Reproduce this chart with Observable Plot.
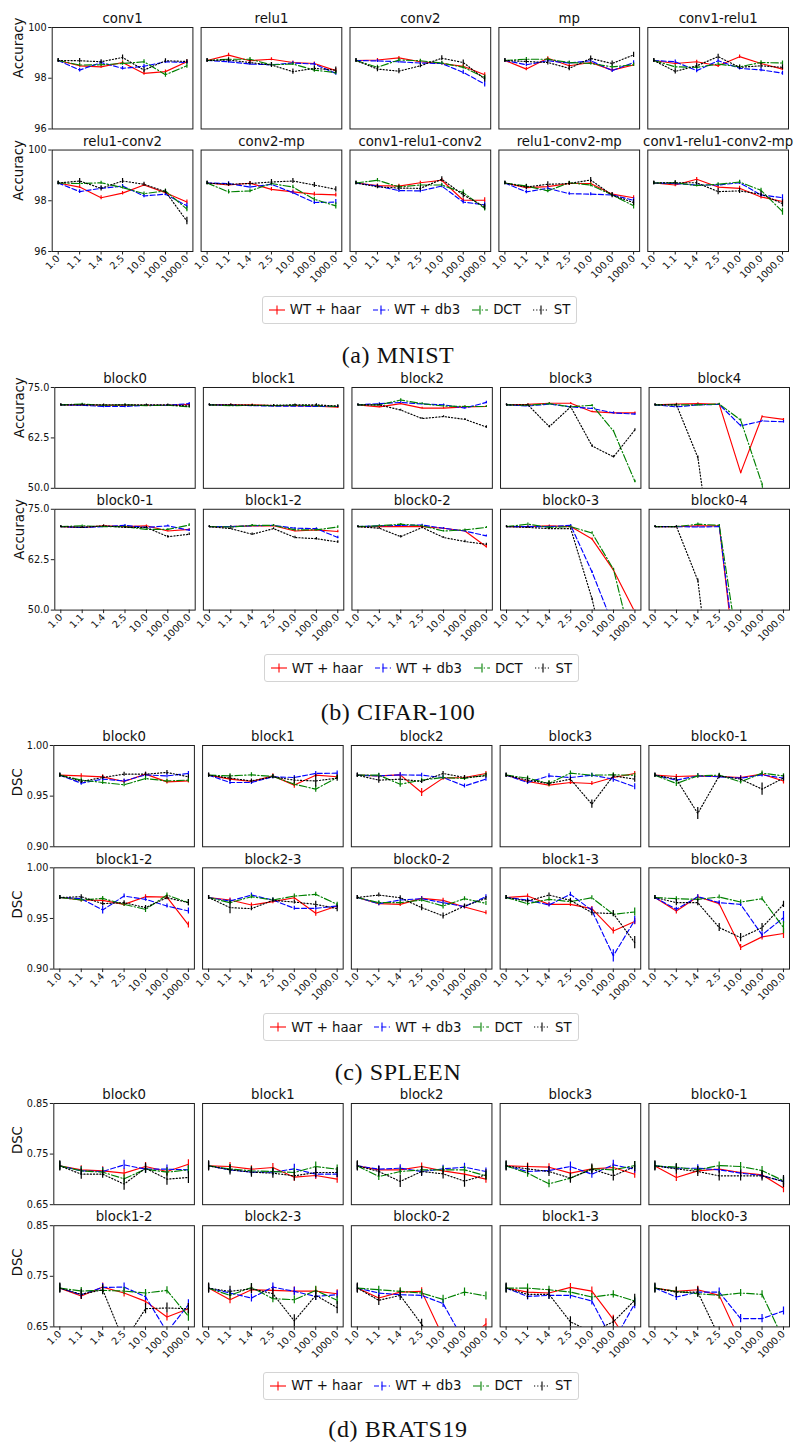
<!DOCTYPE html>
<html>
<head>
<meta charset="utf-8">
<script src="https://cdn.jsdelivr.net/npm/d3@7"></script>
<script src="https://cdn.jsdelivr.net/npm/@observablehq/plot@0.6"></script>
<style>
  html, body { margin: 0; padding: 0; background: #fff; }
  body { width: 796px; height: 1442px; position: relative; overflow: hidden; font-family: "DejaVu Sans", sans-serif; color: #111; }
  .sec { position: absolute; left: 0; }
  .legend { position: absolute; height: 28px; box-sizing: border-box; border: 1px solid #d4d4d4; border-radius: 3px; display: flex; align-items: center; padding: 0 6px 0 6px; font-size: 13.3px; color: #111; background: #fff; white-space: nowrap; }
  .legend .item { display: flex; align-items: center; margin-right: 12px; }
  .legend .item:last-child { margin-right: 0; }
  .legend svg { margin-right: 5px; }
  .caption { position: absolute; left: 0; width: 796px; text-align: center; font-family: "Liberation Serif", serif; font-size: 24px; line-height: 30px; letter-spacing: 0.6px; color: #111; }
</style>
</head>
<body>
<script>
// ---------- shared data ----------
const xLabels = ["1.0", "1.1", "1.4", "2.5", "10.0", "100.0", "1000.0"];
const seriesNames = ["WT + haar", "WT + db3", "DCT", "ST"];

// ---------- (a) MNIST ----------
const mnistPanels = ["conv1", "relu1", "conv2", "mp", "conv1-relu1", "relu1-conv2", "conv2-mp", "conv1-relu1-conv2", "relu1-conv2-mp", "conv1-relu1-conv2-mp"];
const mnistYTicks = [96, 98, 100];
const mnistHaar = [
  [98.7, 98.49, 98.45, 98.62, 98.19, 98.26, 98.65],
  [98.7, 98.91, 98.69, 98.75, 98.62, 98.58, 98.3],
  [98.7, 98.72, 98.8, 98.65, 98.58, 98.47, 98.14],
  [98.7, 98.36, 98.79, 98.49, 98.62, 98.32, 98.52],
  [98.7, 98.58, 98.65, 98.49, 98.85, 98.58, 98.36],
  [98.7, 98.54, 98.12, 98.3, 98.62, 98.32, 97.95],
  [98.7, 98.62, 98.69, 98.45, 98.35, 98.26, 98.23],
  [98.7, 98.6, 98.58, 98.71, 98.81, 98.02, 98.02],
  [98.7, 98.52, 98.56, 98.68, 98.68, 98.26, 98.12],
  [98.7, 98.62, 98.85, 98.54, 98.49, 98.15, 97.97]
];
const mnistDb3 = [
  [98.7, 98.32, 98.62, 98.39, 98.47, 98.65, 98.62],
  [98.7, 98.65, 98.56, 98.53, 98.6, 98.56, 98.19],
  [98.7, 98.68, 98.65, 98.6, 98.58, 98.23, 97.77],
  [98.7, 98.53, 98.69, 98.6, 98.69, 98.3, 98.62],
  [98.7, 98.65, 98.3, 98.69, 98.39, 98.33, 98.2],
  [98.7, 98.36, 98.49, 98.58, 98.19, 98.26, 97.8],
  [98.7, 98.68, 98.54, 98.65, 98.32, 97.93, 97.95],
  [98.7, 98.58, 98.4, 98.39, 98.58, 97.95, 97.84],
  [98.7, 98.35, 98.49, 98.28, 98.26, 98.23, 98.02],
  [98.7, 98.68, 98.62, 98.62, 98.71, 98.23, 98.12]
];
const mnistDct = [
  [98.7, 98.52, 98.53, 98.58, 98.65, 98.14, 98.49],
  [98.7, 98.75, 98.75, 98.53, 98.56, 98.32, 98.22],
  [98.7, 98.43, 98.72, 98.69, 98.6, 98.43, 98.03],
  [98.7, 98.75, 98.75, 98.62, 98.58, 98.45, 98.53],
  [98.7, 98.45, 98.43, 98.56, 98.45, 98.62, 98.6],
  [98.7, 98.68, 98.71, 98.52, 98.28, 98.39, 97.67],
  [98.7, 98.35, 98.39, 98.68, 98.54, 98.06, 97.8],
  [98.7, 98.81, 98.55, 98.62, 98.62, 98.32, 97.7],
  [98.7, 98.58, 98.39, 98.71, 98.62, 98.23, 97.8],
  [98.7, 98.71, 98.6, 98.65, 98.74, 98.41, 97.57]
];
const mnistSt = [
  [98.7, 98.69, 98.65, 98.82, 98.32, 98.69, 98.66],
  [98.7, 98.72, 98.62, 98.52, 98.26, 98.39, 98.32],
  [98.7, 98.36, 98.28, 98.49, 98.79, 98.62, 97.97],
  [98.7, 98.66, 98.62, 98.39, 98.78, 98.58, 98.92],
  [98.7, 98.27, 98.49, 98.85, 98.43, 98.49, 98.43],
  [98.7, 98.78, 98.49, 98.78, 98.65, 98.36, 97.2],
  [98.7, 98.65, 98.68, 98.74, 98.78, 98.62, 98.45],
  [98.7, 98.55, 98.5, 98.49, 98.85, 98.23, 97.76],
  [98.7, 98.54, 98.65, 98.68, 98.82, 98.22, 97.93],
  [98.7, 98.71, 98.71, 98.36, 98.39, 98.26, 97.89]
];
const mnistHaarErr = [
  [.06, .06, .06, .07, .07, .06, .07],
  [.06, .07, .06, .06, .06, .06, .08],
  [.06, .06, .06, .06, .06, .07, .08],
  [.06, .07, .06, .06, .06, .07, .06],
  [.06, .06, .06, .07, .07, .06, .07],
  [.06, .06, .08, .07, .06, .06, .08],
  [.06, .06, .06, .07, .07, .08, .08],
  [.06, .06, .07, .06, .07, .08, .1],
  [.06, .06, .06, .07, .06, .07, .08],
  [.06, .07, .07, .07, .08, .08, .1]
];
const mnistDb3Err = [
  [.06, .07, .06, .07, .07, .06, .07],
  [.06, .06, .06, .07, .06, .06, .07],
  [.06, .06, .06, .06, .06, .08, .12],
  [.06, .07, .06, .06, .06, .07, .07],
  [.06, .07, .08, .06, .07, .07, .08],
  [.06, .07, .06, .06, .07, .06, .1],
  [.06, .07, .06, .07, .07, .08, .1],
  [.06, .06, .07, .07, .07, .08, .1],
  [.06, .07, .06, .06, .06, .07, .1],
  [.06, .06, .06, .06, .07, .07, .12]
];
const mnistDctErr = [
  [.06, .06, .06, .07, .08, .1, .1],
  [.06, .06, .07, .06, .06, .08, .08],
  [.06, .08, .07, .06, .06, .07, .1],
  [.06, .07, .06, .06, .06, .07, .07],
  [.06, .08, .07, .06, .07, .07, .08],
  [.06, .07, .06, .06, .07, .07, .1],
  [.06, .08, .07, .07, .07, .08, .12],
  [.06, .07, .07, .06, .07, .1, .1],
  [.06, .07, .07, .06, .07, .07, .12],
  [.06, .07, .06, .06, .07, .08, .14]
];
const mnistStErr = [
  [.08, .09, .08, .1, .1, .08, .08],
  [.08, .08, .09, .1, .1, .1, .12],
  [.08, .1, .1, .08, .1, .1, .12],
  [.08, .08, .1, .1, .1, .1, .1],
  [.08, .1, .1, .1, .08, .1, .1],
  [.08, .1, .1, .1, .08, .08, .15],
  [.08, .08, .08, .1, .1, .1, .1],
  [.08, .08, .09, .1, .1, .12, .12],
  [.08, .1, .1, .08, .1, .1, .12],
  [.08, .08, .08, .12, .1, .1, .14]
];

// ---------- (b) CIFAR-100 ----------
const cifarPanels = ["block0", "block1", "block2", "block3", "block4", "block0-1", "block1-2", "block0-2", "block0-3", "block0-4"];
const cifarYTicks = [50, 62.5, 75];
const cifarHaar = [
  [70.7, 70.7, 70.6, 70.6, 70.6, 70.6, 70.8],
  [70.7, 70.7, 70.7, 70.5, 70.5, 70.4, 70.1],
  [70.7, 70.2, 71.0, 69.9, 69.9, 70.2, 70.3],
  [70.7, 70.8, 71.1, 71.1, 69.0, 68.7, 68.7],
  [70.7, 70.9, 71.0, 70.8, 53.9, 67.8, 67.1],
  [70.7, 70.5, 70.9, 70.7, 70.9, 69.6, 70.0],
  [70.7, 70.7, 70.9, 70.9, 69.6, 69.9, 69.5],
  [70.7, 70.7, 70.7, 70.7, 70.3, 69.6, 65.7],
  [70.7, 70.7, 70.9, 70.7, 67.6, 59.9, 49.5],
  [70.7, 70.7, 70.9, 70.9, 25, 1, 1]
];
const cifarDb3 = [
  [70.7, 70.6, 70.3, 70.3, 70.6, 70.6, 71.0],
  [70.7, 70.6, 70.5, 70.4, 70.4, 70.3, 70.3],
  [70.7, 71.0, 71.3, 70.9, 70.7, 69.9, 71.3],
  [70.7, 70.4, 70.9, 70.2, 69.8, 68.7, 68.4],
  [70.7, 70.2, 70.7, 70.8, 65.5, 66.7, 66.5],
  [70.7, 70.5, 70.7, 71.0, 70.5, 70.9, 69.8],
  [70.7, 70.7, 70.9, 71.0, 70.3, 70.2, 68.0],
  [70.7, 70.9, 71.0, 71.1, 70.3, 69.6, 68.4],
  [70.7, 70.7, 70.7, 71.0, 59.4, 46, 1],
  [70.7, 70.7, 70.6, 70.7, 28, 1, 1]
];
const cifarDct = [
  [70.7, 70.9, 70.6, 70.7, 70.5, 70.6, 70.2],
  [70.7, 70.5, 70.6, 70.5, 70.6, 70.5, 70.3],
  [70.7, 70.7, 71.9, 71.0, 70.4, 70.3, 70.3],
  [70.7, 70.6, 71.0, 70.2, 70.6, 64.2, 51.7],
  [70.7, 70.7, 70.7, 70.9, 66.9, 51.0, 1],
  [70.7, 70.9, 70.7, 70.7, 70.0, 70.0, 71.1],
  [70.7, 70.6, 71.0, 71.0, 69.9, 69.9, 70.6],
  [70.7, 70.9, 71.3, 70.9, 69.6, 69.9, 70.5],
  [70.7, 71.3, 70.5, 70.7, 69.1, 60.1, 38.5],
  [70.7, 70.7, 71.3, 71.0, 36, 1, 1]
];
const cifarSt = [
  [70.7, 70.7, 70.7, 70.7, 70.7, 70.7, 70.4],
  [70.7, 70.7, 70.6, 70.6, 70.7, 70.7, 70.4],
  [70.7, 70.7, 69.4, 67.3, 67.8, 67.1, 65.2],
  [70.7, 70.7, 65.3, 70.2, 60.5, 57.8, 64.5],
  [70.7, 70.7, 57.6, 20, 1, 1, 1],
  [70.7, 70.5, 70.9, 70.5, 70.5, 68.2, 68.8],
  [70.7, 70.2, 68.8, 70.2, 68.0, 67.7, 66.9],
  [70.7, 70.3, 68.2, 70.5, 68.0, 67.0, 66.3],
  [70.7, 70.5, 70.2, 70.2, 52.7, 30, 20],
  [70.7, 70.7, 57.3, 14, 1, 1, 1]
];
const cifarHaarErr = [
  [.2, .2, .2, .2, .2, .2, .2],
  [.2, .2, .2, .2, .2, .2, .3],
  [.2, .2, .2, .2, .2, .2, .2],
  [.2, .2, .2, .2, .2, .2, .2],
  [.2, .2, .2, .2, .3, .2, .2],
  [.2, .2, .2, .2, .2, .2, .2],
  [.2, .2, .2, .2, .2, .2, .3],
  [.2, .2, .2, .2, .2, .2, .3],
  [.2, .2, .2, .2, .3, .3, .3],
  [.2, .2, .2, .2, .3, .3, .3]
];
const cifarDb3Err = [
  [.2, .2, .3, .3, .2, .2, .3],
  [.2, .2, .2, .2, .2, .2, .2],
  [.2, .2, .2, .2, .2, .2, .3],
  [.2, .2, .2, .2, .2, .2, .2],
  [.2, .2, .2, .2, .3, .2, .3],
  [.2, .2, .2, .2, .2, .2, .3],
  [.2, .2, .2, .2, .2, .2, .3],
  [.2, .2, .2, .2, .2, .2, .2],
  [.2, .2, .2, .2, .3, .3, .3],
  [.2, .2, .2, .3, .3, .3, .3]
];
const cifarDctErr = [
  [.2, .2, .2, .2, .2, .2, .3],
  [.2, .2, .2, .2, .2, .2, .3],
  [.2, .2, .3, .2, .2, .2, .2],
  [.2, .2, .2, .2, .2, .2, .3],
  [.2, .2, .2, .2, .3, .3, .3],
  [.2, .2, .2, .2, .2, .2, .3],
  [.2, .2, .2, .2, .2, .2, .3],
  [.2, .2, .2, .2, .2, .2, .2],
  [.2, .3, .2, .2, .3, .3, .3],
  [.2, .2, .3, .2, .3, .3, .3]
];
const cifarStErr = [
  [.2, .2, .2, .2, .2, .2, .3],
  [.2, .2, .2, .2, .2, .3, .3],
  [.2, .2, .2, .2, .2, .2, .3],
  [.2, .2, .3, .2, .3, .3, .3],
  [.2, .2, .4, .3, .3, .3, .3],
  [.2, .2, .2, .2, .2, .3, .3],
  [.2, .2, .3, .2, .3, .3, .3],
  [.2, .2, .3, .2, .2, .3, .3],
  [.2, .2, .2, .2, .3, .3, .3],
  [.2, .2, .4, .3, .3, .3, .3]
];

// ---------- (c) SPLEEN ----------
const spleenPanels = ["block0", "block1", "block2", "block3", "block0-1", "block1-2", "block2-3", "block0-2", "block1-3", "block0-3"];
const spleenYTicks = [0.90, 0.95, 1.00];
const spleenHaar = [
  [0.9707, 0.9700, 0.9690, 0.9645, 0.9717, 0.9641, 0.9650],
  [0.9707, 0.9668, 0.9645, 0.9700, 0.9609, 0.9707, 0.9691],
  [0.9707, 0.9700, 0.9710, 0.9536, 0.9678, 0.9684, 0.9724],
  [0.9707, 0.9645, 0.9609, 0.9635, 0.9625, 0.9684, 0.9724],
  [0.9707, 0.9694, 0.9700, 0.9694, 0.9684, 0.9717, 0.9650],
  [0.9707, 0.9682, 0.9679, 0.9639, 0.9715, 0.9711, 0.9436],
  [0.9707, 0.9682, 0.9633, 0.9666, 0.9705, 0.9551, 0.9623],
  [0.9707, 0.9646, 0.9639, 0.9698, 0.9679, 0.9613, 0.9557],
  [0.9707, 0.9721, 0.9639, 0.9639, 0.9597, 0.9377, 0.9469],
  [0.9707, 0.9574, 0.9715, 0.9646, 0.9213, 0.9318, 0.9351]
];
const spleenDb3 = [
  [0.9707, 0.9628, 0.9668, 0.9650, 0.9710, 0.9700, 0.9724],
  [0.9707, 0.9635, 0.9635, 0.9691, 0.9684, 0.9724, 0.9727],
  [0.9707, 0.9700, 0.9710, 0.9707, 0.9684, 0.9600, 0.9668],
  [0.9707, 0.9635, 0.9700, 0.9684, 0.9707, 0.9668, 0.9592],
  [0.9707, 0.9658, 0.9700, 0.9691, 0.9678, 0.9710, 0.9678],
  [0.9707, 0.9695, 0.9584, 0.9721, 0.9689, 0.9623, 0.9574],
  [0.9707, 0.9672, 0.9731, 0.9682, 0.9600, 0.9600, 0.9623],
  [0.9707, 0.9646, 0.9682, 0.9695, 0.9656, 0.9616, 0.9715],
  [0.9707, 0.9682, 0.9633, 0.9738, 0.9580, 0.9131, 0.9482],
  [0.9707, 0.9590, 0.9715, 0.9656, 0.9639, 0.9338, 0.9508]
];
const spleenDct = [
  [0.9707, 0.9658, 0.9635, 0.9612, 0.9674, 0.9650, 0.9658],
  [0.9707, 0.9700, 0.9710, 0.9694, 0.9618, 0.9569, 0.9684],
  [0.9707, 0.9707, 0.9618, 0.9658, 0.9684, 0.9674, 0.9710],
  [0.9707, 0.9678, 0.9625, 0.9727, 0.9707, 0.9710, 0.9707],
  [0.9707, 0.9625, 0.9700, 0.9707, 0.9641, 0.9727, 0.9700],
  [0.9707, 0.9682, 0.9698, 0.9639, 0.9590, 0.9731, 0.9656],
  [0.9707, 0.9656, 0.9715, 0.9682, 0.9721, 0.9738, 0.9639],
  [0.9707, 0.9656, 0.9656, 0.9682, 0.9623, 0.9695, 0.9649],
  [0.9707, 0.9646, 0.9689, 0.9666, 0.9705, 0.9541, 0.9564],
  [0.9707, 0.9695, 0.9689, 0.9711, 0.9662, 0.9695, 0.9410]
];
const spleenSt = [
  [0.9707, 0.9645, 0.9684, 0.9717, 0.9717, 0.9734, 0.9691],
  [0.9707, 0.9678, 0.9650, 0.9691, 0.9658, 0.9650, 0.9678],
  [0.9707, 0.9658, 0.9668, 0.9645, 0.9724, 0.9684, 0.9700],
  [0.9707, 0.9658, 0.9625, 0.9668, 0.9421, 0.9700, 0.9668],
  [0.9707, 0.9668, 0.9329, 0.9700, 0.9668, 0.9569, 0.9678],
  [0.9707, 0.9715, 0.9646, 0.9656, 0.9607, 0.9705, 0.9656],
  [0.9707, 0.9607, 0.9597, 0.9679, 0.9662, 0.9639, 0.9597],
  [0.9707, 0.9731, 0.9705, 0.9607, 0.9525, 0.9623, 0.9698],
  [0.9707, 0.9672, 0.9731, 0.9679, 0.9557, 0.9548, 0.9262],
  [0.9707, 0.9656, 0.9656, 0.9410, 0.9311, 0.9410, 0.9639]
];
const spleenHaarErr = [
  [.002, .002, .002, .002, .002, .002, .002],
  [.002, .002, .002, .002, .003, .002, .002],
  [.002, .002, .002, .004, .002, .002, .002],
  [.002, .002, .002, .002, .002, .002, .002],
  [.002, .002, .002, .002, .002, .002, .003],
  [.002, .002, .002, .002, .002, .002, .003],
  [.002, .002, .002, .002, .002, .003, .002],
  [.002, .002, .002, .002, .002, .002, .002],
  [.002, .002, .002, .002, .002, .003, .003],
  [.002, .003, .002, .002, .003, .003, .005]
];
const spleenDb3Err = [
  [.002, .002, .002, .002, .002, .002, .002],
  [.002, .002, .002, .002, .002, .002, .002],
  [.002, .002, .002, .002, .002, .002, .002],
  [.002, .002, .002, .002, .002, .003, .003],
  [.002, .002, .002, .002, .002, .002, .002],
  [.002, .002, .004, .002, .002, .002, .003],
  [.002, .002, .002, .002, .002, .002, .002],
  [.002, .002, .002, .002, .002, .002, .002],
  [.002, .002, .002, .002, .003, .006, .004],
  [.002, .002, .002, .002, .002, .003, .006]
];
const spleenDctErr = [
  [.002, .002, .002, .002, .002, .002, .002],
  [.002, .002, .002, .002, .002, .003, .002],
  [.002, .002, .003, .002, .002, .002, .002],
  [.002, .002, .003, .002, .002, .002, .002],
  [.002, .003, .002, .002, .002, .002, .002],
  [.002, .002, .002, .002, .003, .002, .003],
  [.002, .002, .002, .002, .002, .002, .002],
  [.002, .002, .002, .002, .003, .002, .002],
  [.002, .002, .002, .002, .002, .002, .004],
  [.002, .002, .002, .002, .002, .002, .006]
];
const spleenStErr = [
  [.002, .002, .002, .002, .002, .002, .002],
  [.002, .003, .002, .002, .003, .006, .003],
  [.002, .003, .002, .002, .002, .002, .002],
  [.002, .003, .002, .002, .004, .002, .003],
  [.002, .002, .006, .002, .002, .006, .003],
  [.002, .002, .002, .002, .002, .002, .003],
  [.002, .006, .002, .002, .002, .003, .003],
  [.002, .002, .002, .003, .003, .002, .002],
  [.002, .002, .002, .002, .003, .003, .006],
  [.002, .003, .003, .004, .004, .004, .003]
];

// ---------- (d) BRATS19 ----------
const bratsPanels = ["block0", "block1", "block2", "block3", "block0-1", "block1-2", "block2-3", "block0-2", "block1-3", "block0-3"];
const bratsYTicks = [0.65, 0.75, 0.85];
const bratsHaar = [
  [0.7267, 0.7189, 0.7169, 0.7123, 0.7254, 0.7156, 0.7300],
  [0.7267, 0.7254, 0.7202, 0.7234, 0.7044, 0.7077, 0.7005],
  [0.7267, 0.7189, 0.7189, 0.7254, 0.7169, 0.7103, 0.7005],
  [0.7267, 0.7254, 0.7241, 0.7123, 0.7208, 0.7234, 0.7103],
  [0.7267, 0.7038, 0.7169, 0.7202, 0.7136, 0.7090, 0.6828],
  [0.7267, 0.7110, 0.7287, 0.7169, 0.7005, 0.6697, 0.6860],
  [0.7267, 0.7038, 0.7234, 0.7221, 0.7208, 0.7208, 0.7156],
  [0.7267, 0.7070, 0.7188, 0.7202, 0.6300, 0.6200, 0.6560],
  [0.7267, 0.7188, 0.7169, 0.7280, 0.7208, 0.6650, 0.6000],
  [0.7267, 0.7202, 0.7234, 0.7123, 0.6200, 0.6000, 0.6000]
];
const bratsDb3 = [
  [0.7267, 0.7169, 0.7156, 0.7287, 0.7202, 0.7202, 0.7189],
  [0.7267, 0.7189, 0.7143, 0.7143, 0.7208, 0.7103, 0.7103],
  [0.7267, 0.7202, 0.7221, 0.7156, 0.7208, 0.7241, 0.7156],
  [0.7267, 0.7156, 0.7175, 0.7254, 0.7103, 0.7287, 0.7202],
  [0.7267, 0.7221, 0.7221, 0.7189, 0.7123, 0.7077, 0.6959],
  [0.7267, 0.7136, 0.7280, 0.7287, 0.7097, 0.6400, 0.6938],
  [0.7267, 0.7169, 0.7070, 0.7287, 0.7202, 0.7103, 0.7136],
  [0.7267, 0.7169, 0.7136, 0.7123, 0.6961, 0.6200, 0.6000],
  [0.7267, 0.7103, 0.7123, 0.7123, 0.7012, 0.6200, 0.6959],
  [0.7267, 0.7090, 0.7188, 0.7188, 0.6664, 0.6664, 0.6815]
];
const bratsDct = [
  [0.7267, 0.7169, 0.7143, 0.7011, 0.7202, 0.7143, 0.7189],
  [0.7267, 0.7208, 0.7169, 0.7156, 0.7136, 0.7254, 0.7202],
  [0.7267, 0.7057, 0.7156, 0.7189, 0.7189, 0.7189, 0.7070],
  [0.7267, 0.7123, 0.6913, 0.7025, 0.7208, 0.7189, 0.7274],
  [0.7267, 0.7241, 0.7189, 0.7274, 0.7254, 0.7175, 0.6972],
  [0.7267, 0.7208, 0.7221, 0.7208, 0.7169, 0.7221, 0.6710],
  [0.7267, 0.7123, 0.7280, 0.7057, 0.7038, 0.7221, 0.7025],
  [0.7267, 0.7234, 0.7202, 0.7169, 0.7044, 0.7188, 0.7110],
  [0.7267, 0.7267, 0.7234, 0.7188, 0.7090, 0.7143, 0.7012],
  [0.7267, 0.7202, 0.7156, 0.7123, 0.7169, 0.7143, 0.6250]
];
const bratsSt = [
  [0.7267, 0.7103, 0.7103, 0.6907, 0.7221, 0.7005, 0.7038],
  [0.7267, 0.7189, 0.7143, 0.7123, 0.7070, 0.7136, 0.7136],
  [0.7267, 0.7156, 0.6960, 0.7156, 0.7110, 0.6966, 0.7090],
  [0.7267, 0.7208, 0.7156, 0.7025, 0.7202, 0.7070, 0.7254],
  [0.7267, 0.7208, 0.7156, 0.7070, 0.7070, 0.7070, 0.6959],
  [0.7267, 0.7143, 0.7234, 0.6205, 0.6860, 0.6874, 0.6860],
  [0.7267, 0.7202, 0.7254, 0.7156, 0.6618, 0.7123, 0.6880],
  [0.7267, 0.7025, 0.7123, 0.6550, 0.6000, 0.6000, 0.6000],
  [0.7267, 0.7143, 0.7143, 0.6600, 0.6400, 0.6600, 0.7025],
  [0.7267, 0.7188, 0.7188, 0.6300, 0.6000, 0.6000, 0.6000]
];
const bratsHaarErr = [
  [.008, .008, .008, .008, .008, .008, .009],
  [.008, .008, .007, .008, .008, .008, .008],
  [.008, .007, .007, .007, .007, .008, .008],
  [.008, .007, .007, .008, .007, .008, .008],
  [.008, .008, .007, .007, .007, .008, .009],
  [.008, .007, .008, .008, .008, .008, .010],
  [.008, .008, .007, .008, .008, .008, .008],
  [.008, .007, .007, .007, .008, .008, .010],
  [.008, .007, .007, .008, .008, .008, .008],
  [.008, .007, .007, .007, .008, .008, .008]
];
const bratsDb3Err = [
  [.008, .008, .008, .009, .008, .008, .008],
  [.008, .007, .007, .007, .009, .008, .007],
  [.008, .007, .007, .008, .007, .008, .007],
  [.008, .007, .007, .009, .008, .009, .008],
  [.008, .007, .007, .007, .007, .007, .008],
  [.008, .007, .008, .008, .008, .008, .010],
  [.008, .007, .008, .008, .008, .008, .008],
  [.008, .007, .007, .007, .008, .008, .008],
  [.008, .007, .007, .007, .008, .008, .010],
  [.008, .007, .007, .008, .008, .008, .008]
];
const bratsDctErr = [
  [.008, .008, .008, .008, .008, .008, .008],
  [.008, .008, .008, .007, .008, .009, .008],
  [.008, .008, .007, .007, .007, .007, .008],
  [.008, .008, .008, .008, .007, .007, .008],
  [.008, .007, .007, .007, .008, .008, .008],
  [.008, .007, .007, .007, .007, .007, .010],
  [.008, .008, .008, .008, .008, .008, .008],
  [.008, .007, .007, .007, .008, .008, .008],
  [.008, .008, .007, .007, .007, .007, .008],
  [.008, .007, .007, .007, .007, .007, .010]
];
const bratsStErr = [
  [.010, .010, .008, .012, .010, .012, .012],
  [.010, .010, .010, .010, .010, .010, .010],
  [.010, .010, .012, .010, .010, .012, .010],
  [.010, .010, .010, .010, .010, .010, .010],
  [.010, .010, .010, .010, .010, .010, .012],
  [.010, .010, .010, .010, .010, .010, .010],
  [.010, .010, .010, .010, .012, .010, .012],
  [.010, .010, .010, .010, .010, .010, .010],
  [.010, .010, .010, .010, .010, .010, .012],
  [.010, .010, .010, .010, .010, .010, .010]
];

// ---------- styles & layout (not data) ----------
const seriesStyle = [
  {color: "#ff0000", dash: null},
  {color: "#0000ff", dash: "5,2.4"},
  {color: "#008000", dash: "7.5,2.2,1.3,2.2"},
  {color: "#000000", dash: "1.2,2"}
];

const sections = [
  {panels: mnistPanels, series: [mnistHaar, mnistDb3, mnistDct, mnistSt], errs: [mnistHaarErr, mnistDb3Err, mnistDctErr, mnistStErr],
   yDomain: [96, 100], yTicks: mnistYTicks, yFmt: d => String(d), ylabel: "Accuracy", caption: "(a) MNIST",
   plotTop: 26.7, plotBottom: 250.7, left: 51.7, right: 788, labelDx: -33, legendTop: 295.7, captionY: 355},
  {panels: cifarPanels, series: [cifarHaar, cifarDb3, cifarDct, cifarSt], errs: [cifarHaarErr, cifarDb3Err, cifarDctErr, cifarStErr],
   yDomain: [50, 75], yTicks: cifarYTicks, yFmt: d3.format(".1f"), ylabel: "Accuracy", caption: "(b) CIFAR-100",
   plotTop: 386.7, plotBottom: 609.3, left: 54.3, right: 789, labelDx: -35.3, legendTop: 654.3, captionY: 711.7},
  {panels: spleenPanels, series: [spleenHaar, spleenDb3, spleenDct, spleenSt], errs: [spleenHaarErr, spleenDb3Err, spleenDctErr, spleenStErr],
   yDomain: [0.90, 1.00], yTicks: spleenYTicks, yFmt: d3.format(".2f"), ylabel: "DSC", caption: "(c) SPLEEN",
   plotTop: 744.7, plotBottom: 968.3, left: 53.3, right: 789, labelDx: -35.8, legendTop: 1013.3, captionY: 1072},
  {panels: bratsPanels, series: [bratsHaar, bratsDb3, bratsDct, bratsSt], errs: [bratsHaarErr, bratsDb3Err, bratsDctErr, bratsStErr],
   yDomain: [0.65, 0.85], yTicks: bratsYTicks, yFmt: d3.format(".2f"), ylabel: "DSC", caption: "(d) BRATS19",
   plotTop: 1103.3, plotBottom: 1326.7, left: 53.3, right: 789, labelDx: -35.8, legendTop: 1371.7, captionY: 1429}
];

const MT = 27, MB = 48;

function legendHTML() {
  return seriesNames.map((name, k) => {
    const st = seriesStyle[k];
    const dash = st.dash ? `stroke-dasharray="${st.dash}"` : "";
    return `<div class="item"><svg width="16" height="14"><line x1="0" x2="16" y1="7" y2="7" stroke="${st.color}" stroke-width="1.1" ${dash}/><line x1="8" x2="8" y1="2.5" y2="11.5" stroke="${st.color}" stroke-width="1.1"/></svg><span>${name}</span></div>`;
  }).join("");
}

for (const S of sections) {
  const rows = [];
  S.panels.forEach((p, i) => {
    S.series.forEach((ser, k) => {
      ser[i].forEach((v, j) => {
        const e = S.errs[k][i][j];
        rows.push({fx: i % 5, fy: Math.floor(i / 5), k, x: xLabels[j], y: v, lo: v - e, hi: v + e});
      });
    });
  });
  const titles = S.panels.map((name, i) => ({fx: i % 5, fy: Math.floor(i / 5), name}));
  const ylabs = [{fx: 0, fy: 0}, {fx: 0, fy: 1}];

  const marks = [Plot.frame({stroke: "#1e1e1e", strokeWidth: 1})];
  seriesStyle.forEach((st, k) => {
    const d = rows.filter(r => r.k === k);
    marks.push(Plot.line(d, {fx: "fx", fy: "fy", x: "x", y: "y", stroke: st.color, strokeWidth: 1.15, strokeDasharray: st.dash ?? undefined, clip: true}));
    marks.push(Plot.ruleX(d, {fx: "fx", fy: "fy", x: "x", y1: "lo", y2: "hi", stroke: st.color, strokeWidth: 1.2, clip: true}));
  });
  marks.push(Plot.text(titles, {fx: "fx", fy: "fy", text: "name", frameAnchor: "top", dy: -8.5, lineAnchor: "middle", fontSize: 13.3, fill: "#111"}));
  marks.push(Plot.text(ylabs, {fx: "fx", fy: "fy", text: () => S.ylabel, frameAnchor: "left", dx: S.labelDx, rotate: -90, lineAnchor: "middle", fontSize: 13.3, fill: "#111"}));
  marks.push(Plot.axisX({anchor: "bottom", tickRotate: -45, tickSize: 3.5, tickPadding: 2, fontSize: 9.7, label: null, stroke: "#1e1e1e", fill: "#111"}));
  marks.push(Plot.axisY(S.yTicks, {anchor: "left", tickFormat: S.yFmt, tickSize: 3.5, tickPadding: 2, fontSize: 9.7, label: null, stroke: "#1e1e1e", fill: "#111"}));

  const H = MT + (S.plotBottom - S.plotTop) + MB;
  const chart = Plot.plot({
    width: 796,
    height: H,
    marginTop: MT,
    marginBottom: MB,
    marginLeft: S.left,
    marginRight: 796 - S.right,
    style: {fontFamily: "DejaVu Sans, sans-serif", fontSize: "10px", color: "#111", background: "transparent", overflow: "visible"},
    fx: {domain: [0, 1, 2, 3, 4], paddingInner: 0.055, paddingOuter: 0, round: false, axis: null},
    fy: {domain: [0, 1], paddingInner: 0.172, paddingOuter: 0, round: false, axis: null},
    x: {type: "point", domain: xLabels, padding: 0.28, round: false},
    y: {domain: S.yDomain},
    marks
  });
  const wrap = document.createElement("div");
  wrap.className = "sec";
  wrap.style.top = (S.plotTop - MT) + "px";
  wrap.appendChild(chart);
  document.body.appendChild(wrap);

  const lg = document.createElement("div");
  lg.className = "legend";
  lg.innerHTML = legendHTML();
  lg.style.top = S.legendTop + "px";
  document.body.appendChild(lg);
  const cx = (S.left + S.right) / 2;
  lg.style.left = (cx - lg.offsetWidth / 2) + "px";

  const cap = document.createElement("div");
  cap.className = "caption";
  cap.textContent = S.caption;
  cap.style.top = (S.captionY - 15) + "px";
  document.body.appendChild(cap);
}
</script>
</body>
</html>
